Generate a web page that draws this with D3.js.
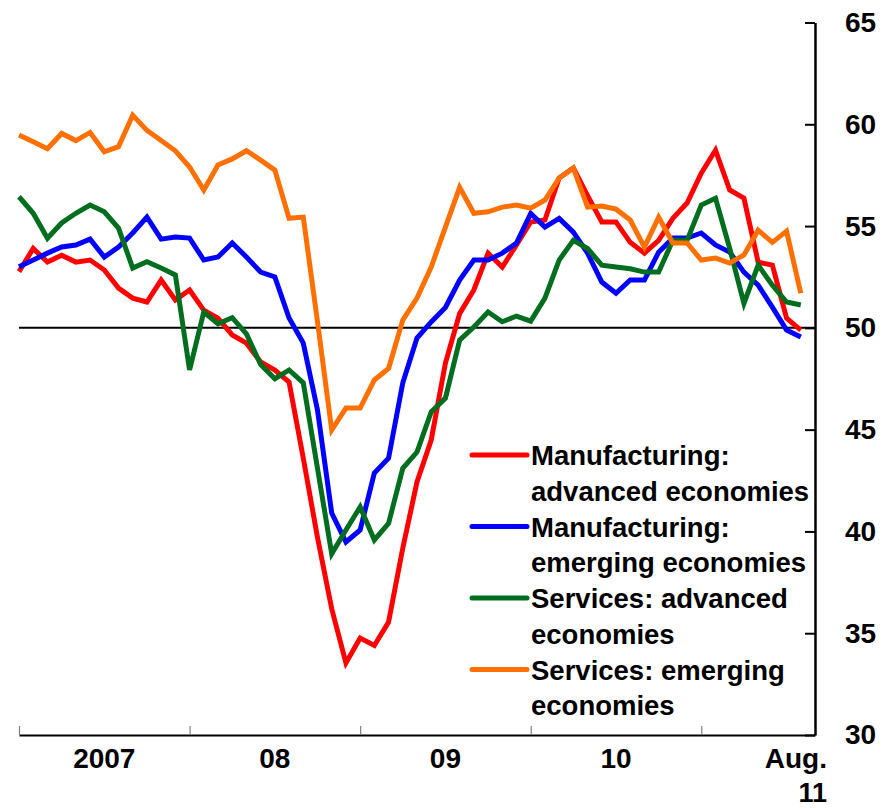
<!DOCTYPE html>
<html><head><meta charset="utf-8">
<script src="https://cdn.jsdelivr.net/npm/d3@7"></script>
<style>body{margin:0;background:#fff}</style>
</head><body>
<svg id="c" width="895" height="809"></svg>
<script>
// Monthly categories Jan 2007 .. Aug 2011
const months = d3.timeMonth.range(new Date(2007,0,1), new Date(2011,8,1)).map(d3.timeFormat("%Y-%m"));

const mfgAdvanced = [52.76,53.9,53.23,53.57,53.23,53.33,52.84,51.95,51.46,51.27,52.35,51.37,
  51.86,50.87,50.48,49.65,49.25,48.32,47.93,47.34,43.6,39.7,36.2,33.54,
  34.76,34.4,35.55,39.18,42.43,44.49,48.27,50.7,51.86,53.67,52.99,54.07,
  55.2,55.3,57.36,57.85,56.5,55.2,55.2,54.2,53.67,54.3,55.38,56.13,
  57.6,58.73,56.77,56.37,53.23,53.08,50.48,49.89];
const mfgEmerging = [53.0,53.33,53.67,53.97,54.07,54.36,53.48,53.97,54.66,55.44,54.36,54.46,
  54.41,53.33,53.48,54.17,53.48,52.74,52.5,50.48,49.25,45.96,40.9,39.48,
  40.07,42.87,43.6,47.3,49.5,50.29,51.0,52.35,53.33,53.33,53.67,54.17,
  55.62,54.95,55.38,54.7,53.67,52.25,51.7,52.35,52.35,53.72,54.41,54.41,
  54.66,54.07,53.72,52.74,52.1,51.02,49.89,49.55];
const svcAdvanced = [56.44,55.63,54.4,55.15,55.63,56.03,55.7,54.9,52.94,53.25,52.94,52.6,
  47.93,50.78,50.2,50.5,49.7,48.2,47.5,47.93,47.3,43.1,38.9,40.07,
  41.2,39.58,40.4,43.1,43.9,45.87,46.55,49.4,50.04,50.78,50.3,50.58,
  50.33,51.46,53.33,54.3,53.9,53.08,52.99,52.9,52.74,52.74,54.3,54.3,
  56.03,56.37,53.9,51.2,53.08,52.1,51.27,51.12];
const svcEmerging = [59.47,59.14,58.8,59.55,59.2,59.6,58.65,58.9,60.45,59.7,59.2,58.7,
  57.9,56.77,58.0,58.3,58.7,58.24,57.75,55.38,55.44,50.3,44.98,46.06,
  46.06,47.44,48.0,50.38,51.46,52.99,54.95,56.9,55.63,55.7,55.93,56.03,
  55.88,56.28,57.36,57.85,55.93,55.98,55.83,55.3,53.97,55.44,54.17,54.17,
  53.33,53.43,53.18,53.58,54.8,54.2,54.75,51.7];

const seriesNames = [["Manufacturing:","advanced economies"],["Manufacturing:","emerging economies"],
  ["Services: advanced","economies"],["Services: emerging","economies"]];
const seriesColors = ["#FF0000","#0000FF","#006E1E","#FF7000"];
const yTicks = [30,35,40,45,50,55,60,65];
const yearStarts = [0,12,24,36,48];
const yearLabels = ["2007","08","09","10"];
const lastLabel = ["Aug.","11"];
const refLevel = 50;

const allSeries = [mfgAdvanced, mfgEmerging, svcAdvanced, svcEmerging];
const FONT = "'Liberation Sans', Arial, sans-serif";

const svg = d3.select("#c");
const x = d3.scaleLinear().domain([0, months.length]).range([19, 815]);
const y = d3.scaleLinear().domain([30, 65]).range([735, 22.5]);

// x axis
const xAxis = svg.append("g").attr("transform", `translate(0,${y(30)})`)
  .call(d3.axisBottom(x).tickValues(yearStarts).tickSize(-9).tickSizeOuter(0).tickFormat(""));
xAxis.select(".domain").attr("stroke", "#000").attr("stroke-width", 2);
xAxis.selectAll(".tick line").attr("stroke", "#808080").attr("stroke-width", 1.2);

svg.append("g").selectAll("text").data(yearLabels).join("text")
  .attr("x", (d, i) => x(yearStarts[i] + 6)).attr("y", 768)
  .attr("text-anchor", "middle").attr("font-family", FONT).attr("font-weight", "bold")
  .attr("font-size", 28).text(d => d);
svg.append("g").selectAll("text").data(lastLabel).join("text")
  .attr("x", x(months.length) + 12).attr("y", (d, i) => 768 + i * 34)
  .attr("text-anchor", "end").attr("font-family", FONT).attr("font-weight", "bold")
  .attr("font-size", (d, i) => i ? 27 : 28).text(d => d);

// reference line at 50
svg.append("line").attr("x1", x(0)).attr("x2", x(months.length))
  .attr("y1", y(refLevel)).attr("y2", y(refLevel)).attr("stroke", "#000").attr("stroke-width", 2);

// series lines
const line = d3.line().x((d, i) => x(i)).y(d => y(d));
svg.append("g").selectAll("path").data(allSeries).join("path")
  .attr("d", line).attr("fill", "none")
  .attr("stroke", (d, i) => seriesColors[i]).attr("stroke-width", 5)
  .attr("stroke-linejoin", "miter");

// right y axis
const yAxis = svg.append("g").attr("transform", `translate(${x(months.length)},0)`)
  .call(d3.axisRight(y).tickValues(yTicks).tickSize(-10).tickSizeOuter(0).tickPadding(30));
yAxis.select(".domain").attr("stroke", "#000").attr("stroke-width", 2.5);
yAxis.selectAll(".tick line").attr("stroke", "#000").attr("stroke-width", 2);
yAxis.selectAll(".tick text").attr("font-family", FONT).attr("font-weight", "bold")
  .attr("font-size", 28).attr("fill", "#000");

// legend
const lg = svg.append("g");
const rowH = 35.75, base0 = 465;
seriesNames.forEach((lines, i) => {
  const b = base0 + i * 2 * rowH;
  lg.append("line").attr("x1", 472).attr("x2", 527).attr("y1", b - 10).attr("y2", b - 10)
    .attr("stroke", seriesColors[i]).attr("stroke-width", 5).attr("stroke-linecap", "round");
  lines.forEach((t, j) => {
    lg.append("text").attr("x", 531).attr("y", b + j * rowH)
      .attr("font-family", FONT).attr("font-weight", "bold").attr("font-size", 27.5)
      .attr("fill", "#000").text(t);
  });
});
</script>
</body></html>
